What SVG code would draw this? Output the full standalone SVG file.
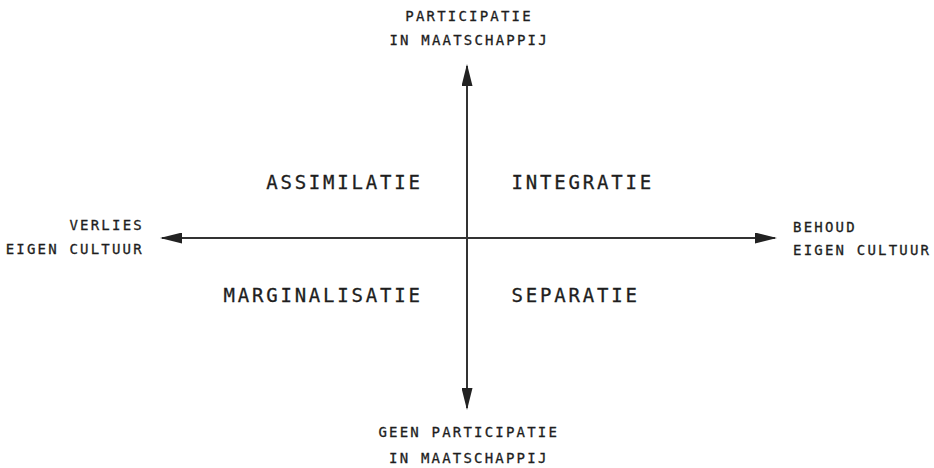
<svg xmlns="http://www.w3.org/2000/svg" width="934" height="468" viewBox="0 0 934 468">
<defs>
<style>
.ax{font-family:"DejaVu Sans Mono","Liberation Mono",monospace;font-size:14px;letter-spacing:2.2px;fill:#1e1e1e;stroke:#1e1e1e;stroke-width:0.3px}
.q{font-family:"DejaVu Sans Mono","Liberation Mono",monospace;font-size:19px;letter-spacing:2.8px;fill:#1e1e1e;stroke:#1e1e1e;stroke-width:0.3px}
.axis{stroke:#333;stroke-width:2;fill:none;marker-end:url(#arr)}
</style>
<marker id="arr" viewBox="0 0 22 11" refX="20" refY="5.5" markerWidth="22" markerHeight="11" markerUnits="userSpaceOnUse" orient="auto">
<path d="M0,0 L22,5.5 L0,11 Z" fill="#222"/>
</marker>
</defs>
<rect width="934" height="468" fill="#fff"/>
<g id="connectors">
<line class="axis" x1="467" y1="238" x2="467" y2="66"/>
<line class="axis" x1="467" y1="238" x2="467" y2="408"/>
<line class="axis" x1="467" y1="238" x2="162" y2="238"/>
<line class="axis" x1="467" y1="238" x2="775" y2="238"/>
</g>
<g id="top-label">
<text class="ax" x="469.1" y="21" text-anchor="middle">PARTICIPATIE</text>
<text class="ax" x="469.1" y="45" text-anchor="middle">IN MAATSCHAPPIJ</text>
</g>
<g id="bottom-label">
<text class="ax" x="468.8" y="437" text-anchor="middle">GEEN PARTICIPATIE</text>
<text class="ax" x="468.8" y="463" text-anchor="middle">IN MAATSCHAPPIJ</text>
</g>
<g id="left-label">
<text class="ax" x="143.9" y="229.5" text-anchor="end">VERLIES</text>
<text class="ax" x="143.9" y="253.5" text-anchor="end">EIGEN CULTUUR</text>
</g>
<g id="right-label">
<text class="ax" x="793" y="231.5">BEHOUD</text>
<text class="ax" x="793" y="254.5">EIGEN CULTUUR</text>
</g>
<g id="assimilatie"><text class="q" x="422.8" y="188.5" text-anchor="end">ASSIMILATIE</text></g>
<g id="integratie"><text class="q" x="511.5" y="188.5">INTEGRATIE</text></g>
<g id="marginalisatie"><text class="q" x="422.8" y="302" text-anchor="end">MARGINALISATIE</text></g>
<g id="separatie"><text class="q" x="511.5" y="302">SEPARATIE</text></g>
</svg>
